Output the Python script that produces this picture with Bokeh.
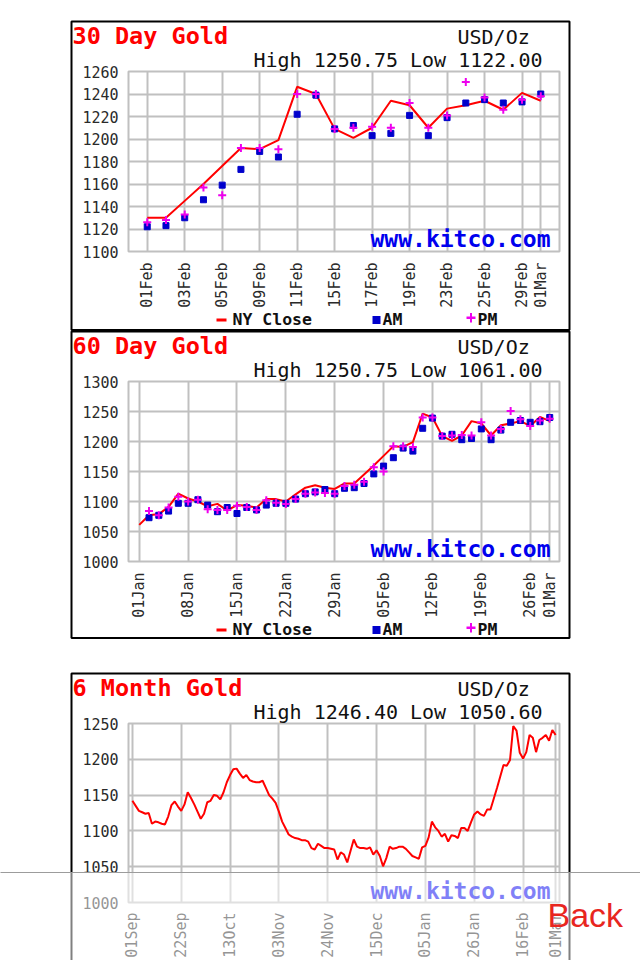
import math
from bokeh.plotting import figure
from bokeh.models import Label, BoxAnnotation, FixedTicker, Range1d, GridBox
from bokeh.layouts import column
from bokeh.embed import file_html
from bokeh.resources import INLINE

# ---------------- data ----------------
# NY close, every business day 01Sep2015 .. 01Mar2016 (131 values)
close_6m = [
    1142, 1135, 1128, 1126, 1124, 1125, 1110, 1113, 1112, 1110,
    1109, 1120, 1136, 1141, 1134, 1128, 1137, 1154, 1146, 1137,
    1127, 1117, 1124, 1140, 1142, 1150, 1149, 1144, 1154, 1168,
    1178, 1186, 1187, 1180, 1174, 1178, 1171, 1169, 1168, 1168,
    1170, 1160, 1150, 1145, 1139, 1127, 1113, 1104, 1095, 1092,
    1090, 1089, 1087, 1087, 1085, 1076, 1074, 1082, 1079, 1076,
    1076, 1075, 1074, 1060, 1070, 1067, 1056, 1072, 1088, 1078,
    1076, 1076, 1075, 1077, 1067, 1073, 1065, 1050.6, 1062, 1078,
    1075, 1076, 1078, 1078, 1075, 1070, 1065, 1063,
    # 01Jan .. 29Jan
    1061, 1077, 1079, 1091, 1113, 1105, 1100, 1092, 1096, 1085,
    1094, 1093, 1090, 1104, 1104, 1100, 1112, 1123, 1127, 1123, 1121,
    # 01Feb .. 01Mar
    1130, 1130, 1145, 1160, 1176, 1192, 1191, 1199, 1246.4, 1240,
    1209, 1201, 1210, 1234, 1230, 1210, 1227, 1230, 1234, 1226, 1241, 1234,
]
NAN = float("nan")
# London AM / PM fixes, 01Jan .. 01Mar 2016 (43 trading days)
am_60 = [
    NAN, 1073, 1077, 1084, 1097, 1097, 1103, 1094, 1083, 1090, 1080,
    1090, 1086, 1094, 1097, 1097, 1104, 1113, 1116, 1120, 1113,
    1122, 1123, 1130, 1146, 1159, 1173, 1189, 1184, 1222, 1239,
    1209, 1212, 1203, 1205, 1221, 1203, 1219, 1232, 1235, 1232, 1233, 1240,
]
pm_60 = [
    NAN, 1084, 1077, 1090, 1108, 1100, 1103, 1087, 1086, 1086, 1093,
    1091, 1086, 1102, 1098, 1096, 1104, 1113, 1115, 1114, 1113,
    1126, 1128, 1133, 1157, 1150, 1192, 1192, 1191, 1240, 1240,
    1209, 1210, 1211, 1210, 1232, 1210, 1221, 1250.75, 1237, 1226, 1235, 1238,
]
close_60 = close_6m[88:]
close_30 = close_6m[109:]
am_30 = am_60[21:]
pm_30 = pm_60[21:]

ticks_30 = [0, 2, 4, 6, 8, 10, 12, 14, 16, 18, 20, 21]
labels_30 = ["01Feb", "03Feb", "05Feb", "09Feb", "11Feb", "15Feb",
             "17Feb", "19Feb", "23Feb", "25Feb", "29Feb", "01Mar"]
ticks_60 = [0, 5, 10, 15, 20, 25, 30, 35, 40, 42]
labels_60 = ["01Jan", "08Jan", "15Jan", "22Jan", "29Jan",
             "05Feb", "12Feb", "19Feb", "26Feb", "01Mar"]
ticks_6m = [0, 15, 30, 45, 60, 75, 90, 105, 120, 130]
labels_6m = ["01Sep", "22Sep", "13Oct", "03Nov", "24Nov",
             "15Dec", "05Jan", "26Jan", "16Feb", "01Mar"]

titles = ["30 Day Gold", "60 Day Gold", "6 Month Gold"]
highlow = ["High 1250.75 Low 1122.00", "High 1250.75 Low 1061.00",
           "High 1246.40 Low 1050.60"]

MONO = "DejaVu Sans Mono"
GRID = "#c0c0c0"
RED = "#ff0000"
BLUE = "#0000cc"
MAGENTA = "#ee00ee"
BASELINE_FIX = 0.39   # em offset so that y is the text baseline


def chart(height, top, bottom, close, xr, yr, ystep, ticks, labels,
          am=None, pm=None, standoff=11):
    p = figure(width=640, height=height, output_backend="svg",
               toolbar_location=None, tools="", title=None,
               x_range=Range1d(*xr), y_range=Range1d(*yr),
               min_border_left=128, min_border_right=81,
               min_border_top=top, min_border_bottom=bottom)
    p.background_fill_color = "white"
    p.border_fill_color = "white"
    p.outline_line_color = GRID
    p.outline_line_width = 2
    p.xaxis.ticker = FixedTicker(ticks=ticks)
    p.xaxis.major_label_overrides = {t: s for t, s in zip(ticks, labels)}
    p.xaxis.major_label_orientation = math.pi / 2
    p.yaxis.ticker = FixedTicker(ticks=list(range(yr[0], yr[1] + 1, ystep)))
    for ax in (p.xaxis[0], p.yaxis[0]):
        ax.axis_line_color = None
        ax.major_tick_line_color = None
        ax.minor_tick_line_color = None
        ax.major_tick_out = 0
        ax.major_tick_in = 0
        ax.major_label_text_font = MONO
        ax.major_label_text_font_size = "15px"
        ax.major_label_text_color = "#2a2a2a"
    p.xaxis.major_label_standoff = standoff
    p.yaxis.major_label_standoff = 10
    p.grid.grid_line_color = GRID
    p.grid.grid_line_width = 2

    xs = list(range(len(close)))
    p.line(xs, close, line_color=RED, line_width=2)
    if am is not None:
        p.scatter(xs, am, marker="square", size=6, fill_color=BLUE,
                  line_color=BLUE)
        p.scatter(xs, pm, marker="cross", size=8, line_color=MAGENTA,
                  line_width=2)
    return p


p1 = chart(330, 71, 79, close_30, (-1.0, 22.0), (1100, 1260), 20,
           ticks_30, labels_30, am_30, pm_30)
p2 = chart(310, 51, 79, close_60, (-1.1, 43.0), (1000, 1300), 50,
           ticks_60, labels_60, am_60, pm_60)
p3 = chart(320, 83, 57, close_6m, (-1.2, 131.2), (1000, 1250), 50,
           ticks_6m, labels_6m, standoff=10)

# ---------------- page decoration layer (page pixel coordinates) ----------------
deco = figure(width=640, height=960, output_backend="svg", toolbar_location=None,
              tools="", title=None, x_range=Range1d(0, 640),
              y_range=Range1d(960, 0), x_axis_type=None, y_axis_type=None,
              min_border=0)
deco.background_fill_alpha = 0
deco.border_fill_alpha = 0
deco.outline_line_color = None


def text(s, x, y, size, color, bold=False, font=MONO, align="left"):
    deco.add_layout(Label(x=x, y=y - BASELINE_FIX * size, text=s, text_font=font,
                          text_font_size=f"{size}px", text_color=color,
                          text_align=align, text_baseline="alphabetic",
                          text_font_style="bold" if bold else "normal"))


def rect(l, r, t, b, fill=None, alpha=1.0, line=None, lw=1):
    deco.add_layout(BoxAnnotation(left=l, right=r, top=t, bottom=b,
                                  fill_color=fill if fill else "white",
                                  fill_alpha=alpha if fill else 0,
                                  line_color=line if line else "black",
                                  line_alpha=1 if line else 0, line_width=lw))


panel_tops = [20, 330, 672]
panel_bottoms = [329.5, 637.5, 1000]
for i, top in enumerate(panel_tops):
    rect(71, 569, top + 1, panel_bottoms[i], line="#000000", lw=2)
    text(titles[i], 72, top + 25, 23.5, RED, bold=True)
    text("USD/Oz", 457, top + 24, 20, "#111111")
    text(highlow[i], 253, top + 47, 20, "#111111")
    text("www.kitco.com", 370, top + 227, 23, "#0000ee", bold=True)
    if i < 2:
        rect(216, 226, top + 298, top + 301, fill=RED)
        text("NY Close", 232, top + 305, 16.5, "#111111", bold=True)
        rect(372, 380, top + 295.5, top + 303.5, fill=BLUE)
        text("AM", 382, top + 305, 16.5, "#111111", bold=True)
        rect(466, 475, top + 296, top + 298.5, fill=MAGENTA)
        rect(469.5, 471.5, top + 292.5, top + 302, fill=MAGENTA)
        text("PM", 477, top + 305, 16.5, "#111111", bold=True)

# translucent bottom toolbar with its Back button
rect(-10, 650, 872, 975, fill="#ffffff", alpha=0.5, line="#9c9c9c", lw=1)
text("Back", 547, 928, 34, "#e8261f", font="Liberation Sans")

charts = column(p1, p2, p3)
layout = GridBox(children=[(charts, 0, 0), (deco, 0, 0)])
open("out.html", "w").write(file_html(layout, INLINE))
